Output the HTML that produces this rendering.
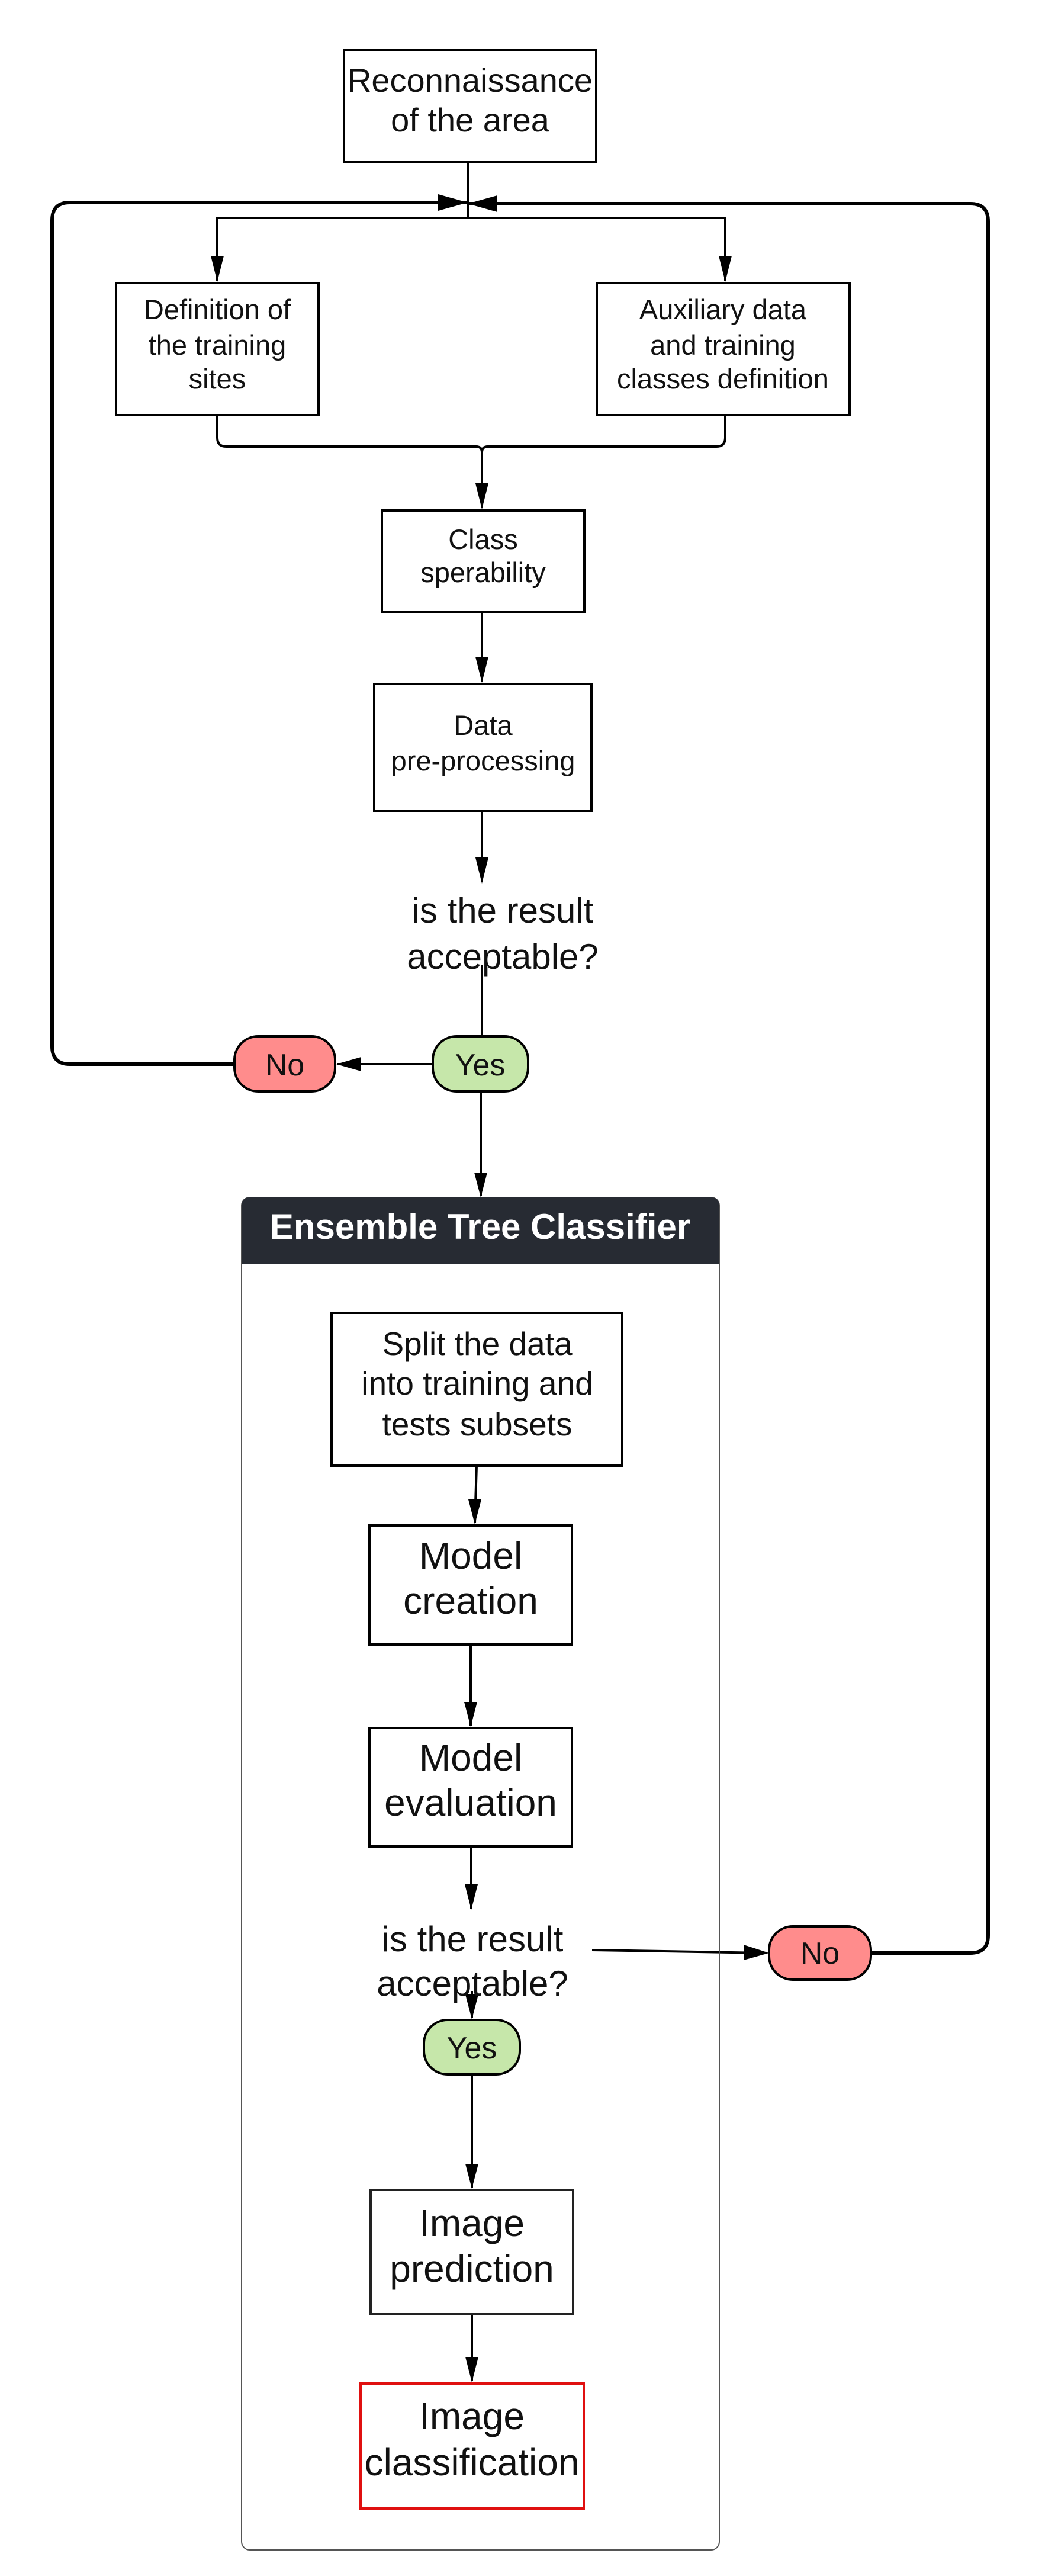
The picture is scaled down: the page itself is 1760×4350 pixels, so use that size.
<!DOCTYPE html>
<html><head><meta charset="utf-8"><style>html,body{margin:0;padding:0;background:#fff}svg{display:block}text{font-family:"Liberation Sans",sans-serif;fill:#111;text-anchor:middle}</style></head>
<body>
<svg width="1760" height="4350" viewBox="0 0 1760 4350" xmlns="http://www.w3.org/2000/svg">
<g fill="none" stroke="#000">
<path d="M790 274 V368" stroke-width="4"/>
<path d="M367 474 V368 H1225 V474" stroke-width="4"/>
<path d="M396 1797 H118 Q88 1797 88 1767 V372 Q88 342 118 342 H788" stroke-width="6"/>
<path d="M1471 3298 H1639 Q1669 3298 1669 3268 V374 Q1669 344 1639 344 H792" stroke-width="6"/>
<path d="M367 701 V739 Q367 754 382 754 H804 Q814 754 814 764 Q814 754 824 754 H1210 Q1225 754 1225 739 V701" stroke-width="4"/>
<path d="M814 764 V858" stroke-width="4"/>
<path d="M814 1033 V1151" stroke-width="4"/>
<path d="M814 1369 V1490" stroke-width="4"/>
<path d="M814 1629 V1750" stroke-width="4"/>
<path d="M730 1797 H570" stroke-width="4"/>
<path d="M812 1843 V2020" stroke-width="4"/>
<path d="M805 2475 L802 2572" stroke-width="4"/>
<path d="M795 2777 V2914" stroke-width="4"/>
<path d="M796 3118 V3223" stroke-width="4"/>
<path d="M797 3362 V3408" stroke-width="4"/>
<path d="M797 3503 V3694" stroke-width="4"/>
<path d="M797 3908 V4021" stroke-width="4"/>
<path d="M1000 3293 L1296 3298" stroke-width="4"/>
</g>
<g fill="#000">
<path d="M740 328 L790 342 L740 356 z"/>
<path d="M840 330 L790 344 L840 358 z"/>
<path d="M356 432 L367 476 L378 432 z"/>
<path d="M1214 432 L1225 476 L1236 432 z"/>
<path d="M803 816 L814 860 L825 816 z"/>
<path d="M803 1109 L814 1153 L825 1109 z"/>
<path d="M803 1448 L814 1492 L825 1448 z"/>
<path d="M610 1785 L568 1797 L610 1809 z"/>
<path d="M801 1980 L812 2022 L823 1980 z"/>
<path d="M791 2532 L802 2574 L813 2532 z"/>
<path d="M784 2874 L795 2916 L806 2874 z"/>
<path d="M785 3182 L796 3225 L807 3182 z"/>
<path d="M786 3368 L797 3410 L808 3368 z"/>
<path d="M786 3654 L797 3696 L808 3654 z"/>
<path d="M786 3980 L797 4023 L808 3980 z"/>
<path d="M1256 3284 L1299 3298 L1256 3310 z"/>
</g>
<rect x="408" y="2022" width="807" height="2284" rx="14" fill="none" stroke="#555" stroke-width="2"/>
<path d="M408 2135 V2036 Q408 2022 422 2022 H1201 Q1215 2022 1215 2036 V2135 z" fill="#272b33"/>
<text x="811" y="2092" font-size="60" font-weight="bold" style="fill:#fff">Ensemble Tree Classifier</text>
<g fill="#fff" stroke="#000" stroke-width="4">
<rect x="581" y="84" width="426" height="190"/>
<rect x="196" y="478" width="342" height="223"/>
<rect x="1008" y="478" width="427" height="223"/>
<rect x="645" y="862" width="342" height="171"/>
<rect x="632" y="1155" width="367" height="214"/>
<rect x="560" y="2217" width="491" height="258"/>
<rect x="624" y="2576" width="342" height="201"/>
<rect x="624" y="2918" width="342" height="200"/>
<rect x="626" y="3698" width="342" height="210" stroke="#222"/>
<rect x="609" y="4025" width="377" height="211" stroke="#e01010"/>
<rect x="396" y="1750" width="170" height="93" rx="40" fill="#ff8c8c"/>
<rect x="731" y="1750" width="161" height="93" rx="40" fill="#c6e7aa"/>
<rect x="1299" y="3253" width="172" height="90" rx="40" fill="#ff8c8c"/>
<rect x="716" y="3411" width="162" height="92" rx="40" fill="#c6e7aa"/>
</g>
<g font-size="56"><text x="794" y="155">Reconnaissance</text><text x="794" y="222">of the area</text></g>
<g font-size="47"><text x="367" y="539">Definition of</text><text x="367" y="599">the training</text><text x="367" y="656">sites</text>
<text x="1221" y="539">Auxiliary data</text><text x="1221" y="599">and  training</text><text x="1221" y="656">classes definition</text>
<text x="816" y="927">Class</text><text x="816" y="983">sperability</text>
<text x="816" y="1241">Data</text><text x="816" y="1301">pre-processing</text></g>
<g font-size="60"><text x="849" y="1558">is the result</text><text x="849" y="1636">acceptable?</text>
<text x="798" y="3295">is the result</text><text x="798" y="3370">acceptable?</text></g>
<g font-size="52"><text x="481" y="1816">No</text><text x="811" y="1816">Yes</text><text x="1385" y="3316">No</text><text x="797" y="3476">Yes</text></g>
<g font-size="55"><text x="806" y="2288">Split the data</text><text x="806" y="2355">into training and</text><text x="806" y="2424">tests subsets</text></g>
<g font-size="64"><text x="795" y="2649">Model</text><text x="795" y="2725">creation</text>
<text x="795" y="2990">Model</text><text x="795" y="3066">evaluation</text>
<text x="797" y="3776">Image</text><text x="797" y="3853">prediction</text>
<text x="797" y="4102">Image</text><text x="797" y="4180">classification</text></g>
</svg>
</body></html>
